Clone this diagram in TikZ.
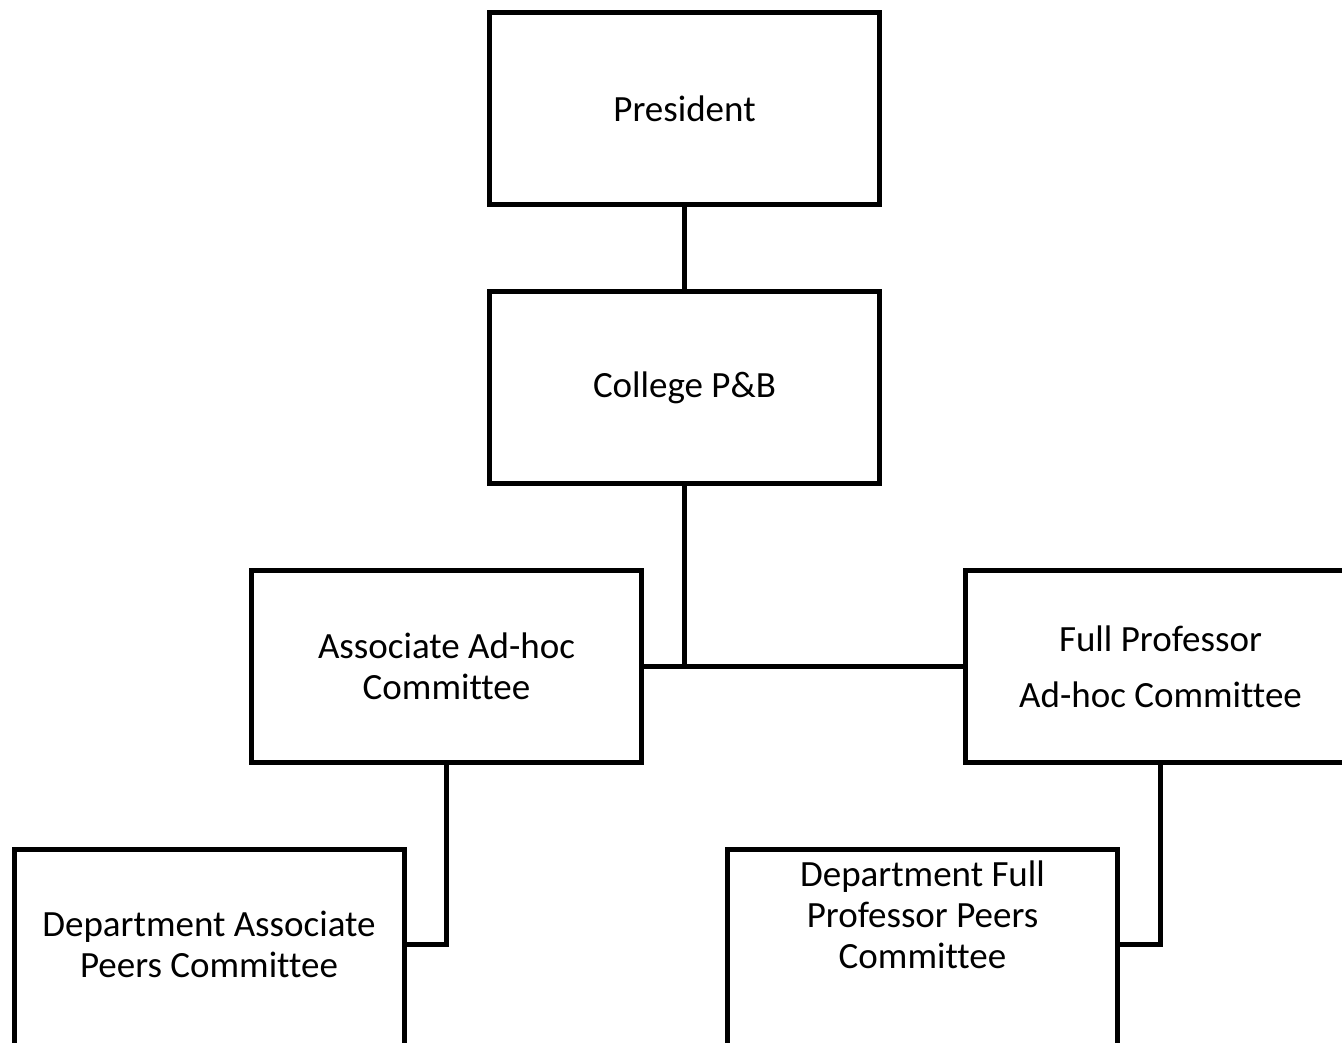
\documentclass[tikz,border=0pt]{standalone}
\usepackage{fontspec}
\setmainfont{Carlito}[Ligatures=NoCommon]

\begin{document}
\begin{tikzpicture}[x=1pt, y=-1pt, line width = 5pt,
  box/.style={draw, minimum width=390pt, minimum height=192pt, inner sep=0pt,
    align=center, font=\fontsize{37}{41}\selectfont}]

\useasboundingbox (0,0) rectangle (1342,1042);
\clip (0,0) rectangle (1342,1042);

\node [box] (pres) at (684.5,108.5) {President};
\node [box] (pb) at (684.5,387.5) {College P\&B};

\node [box] (assoc) at (446.5,666.5) {Associate Ad-hoc\\Committee};
\node [box] (full) at (1160.5,666.5) {Full Professor\\[15pt]Ad-hoc Committee};

\node [box, minimum height=197pt] (deptassoc) at (209,947.5) {};
\node [align=center, font=\fontsize{37}{41}\selectfont] (deptassoctext) at (209,944.5)
  {Department Associate\\Peers Committee};
\node [box, minimum height=197pt] (deptfull) at (922.5,947.5) {};
\node [align=center, font=\fontsize{37}{41}\selectfont] (deptfulltext) at (922.5,915)
  {Department Full\\Professor Peers\\Committee};

\draw (pres.south)--(pb.north);
\draw (pb.south)--(pb.south |- assoc.east);
\draw (assoc.east)--(full.west);

\draw (assoc.south) |- ([yshift=3.5pt]deptassoc.east);
\draw (full.south) |- ([yshift=3.5pt]deptfull.east);

\end{tikzpicture}
\end{document}
